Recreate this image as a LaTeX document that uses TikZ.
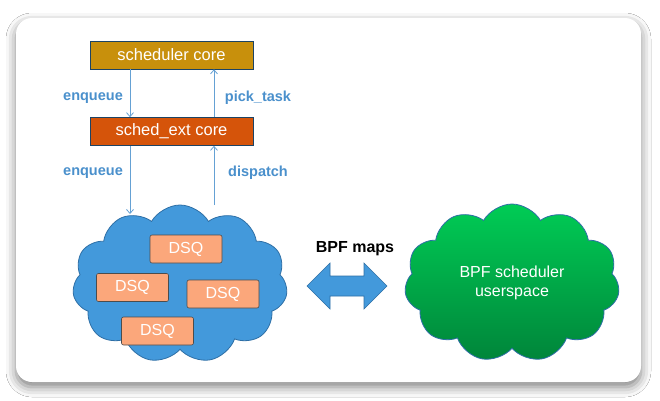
\documentclass[tikz,border=0pt]{standalone}
\usepackage{fontspec}
\setmainfont{Liberation Sans}
\usetikzlibrary{shapes.symbols,shadows.blur,calc,arrows.meta}
\definecolor{gold}{HTML}{C8900C}
\definecolor{rust}{HTML}{D5540A}
\definecolor{lblue}{HTML}{4A90CC}
\definecolor{cblue}{HTML}{4399DB}
\definecolor{cblueb}{HTML}{2E6FA6}
\definecolor{dsq}{HTML}{FBA77B}
\definecolor{gtop}{HTML}{00CC55}
\definecolor{gbot}{HTML}{00853A}
\begin{document}
\begin{tikzpicture}[x=1pt,y=-1pt,
 corebox/.style={draw=cblueb!60!black, line width=0.6pt, minimum width=163pt, minimum height=28pt, inner sep=0pt, text=white, font=\fontsize{16.5}{18}\selectfont},
 dsqbox/.style={draw=gray!60!black, line width=0.6pt, fill=dsq, rounded corners=2pt, minimum width=72pt, minimum height=28pt, text=white, font=\fontsize{16}{18}\selectfont, inner sep=0pt},
 flow/.style={draw=lblue!85, line width=0.8pt, -{Straight Barb[length=4pt,width=7pt]}},
 lbl/.style={text=lblue, font=\bfseries\fontsize{14.5}{16}\selectfont},
 cloudshape/.style={cloud, cloud puffs=11, cloud puff arc=120, aspect=1.35, line width=0.8pt, inner sep=0pt, minimum width=215pt, minimum height=158pt},
 ]
\useasboundingbox (0,0) rectangle (660,400);
\fill[white] (0,0) rectangle (660,400);
\path[fill=white, rounded corners=16pt, blur shadow={shadow xshift=0pt,shadow yshift=-5pt,shadow blur radius=10pt,shadow opacity=50}] (16,18) rectangle (641,382);

\node[corebox, fill=gold] (sc) at (171.5,55) {scheduler core};
\node[corebox, fill=rust] (sx) at (171.5,131.5) {sched\_ext core};

\node[cloudshape, draw=cblueb, fill=cblue] (dsqcloud) at (180,284) {};
\node[dsqbox] (d1) at (186,249) {DSQ};
\node[dsqbox] (d2) at (132.5,287.5) {DSQ};
\node[dsqbox] (d3) at (223,294) {DSQ};
\node[dsqbox] (d4) at (157.5,331) {DSQ};

\node[cloudshape, draw=cblueb, top color=gtop, bottom color=gbot, text=white, align=center, font=\fontsize{16}{19}\selectfont] (user) at (512,283) {BPF scheduler\\userspace};

\coordinate (enqend) at (130,214);
\coordinate (disstart) at (214,205);
\draw[flow] ([xshift=-41.5pt]sc.south) -- ([xshift=-41.5pt]sx.north);
\draw[flow] ([xshift=42.5pt]sx.north) -- ([xshift=42.5pt]sc.south);
\draw[flow] ([xshift=-41.5pt]sx.south) -- (enqend);
\draw[flow] (disstart) -- ([xshift=42.5pt]sx.south);

\node[lbl] (l1) at (93,98) {enqueue};
\node[lbl] (l2) at (258,98) {pick\_task};
\node[lbl] (l3) at (93,173) {enqueue};
\node[lbl] (l4) at (258,173) {dispatch};

\node[font=\bfseries\fontsize{16}{18}\selectfont] (maps) at (355,249) {BPF maps};
\coordinate (arr) at (347,286);
\fill[cblue, draw=cblueb, line width=0.6pt]
  ($(arr)+(-40,0)$) -- ($(arr)+(-17,-23)$) -- ($(arr)+(-17,-10)$) -- ($(arr)+(17,-10)$) -- ($(arr)+(17,-23)$) -- ($(arr)+(40,0)$) -- ($(arr)+(17,23)$) -- ($(arr)+(17,10)$) -- ($(arr)+(-17,10)$) -- ($(arr)+(-17,23)$) -- cycle;
\end{tikzpicture}
\end{document}
